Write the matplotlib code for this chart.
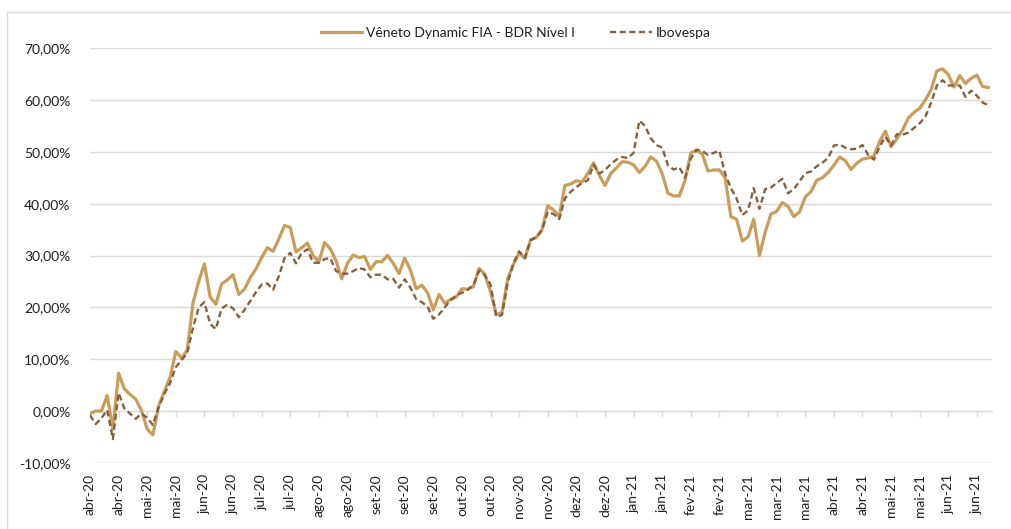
"""Vêneto Dynamic FIA vs Ibovespa - retorno acumulado"""

import matplotlib

matplotlib.use("Agg")
import matplotlib.pyplot as plt
from matplotlib.patches import Rectangle
from matplotlib.ticker import FuncFormatter

FUND_COLOR = "#C99D5B"
IBOV_COLOR = "#86603F"
GRID_COLOR = "#D9D9D9"
TEXT_COLOR = "#1F1F1F"

FUND_NAME = "Vêneto Dynamic FIA - BDR Nível I"
IBOV_NAME = "Ibovespa"

# one label every 5 points (points are ~2 business days apart)
month_labels = [
    "abr-20", "abr-20", "mai-20", "mai-20", "jun-20", "jun-20", "jul-20", "jul-20",
    "ago-20", "ago-20", "set-20", "set-20", "set-20", "out-20", "out-20", "nov-20",
    "nov-20", "dez-20", "dez-20", "jan-21", "jan-21", "fev-21", "fev-21", "mar-21",
    "mar-21", "mar-21", "abr-21", "abr-21", "mai-21", "mai-21", "jun-21", "jun-21",
]
LABEL_STEP = 5

# cumulative return, %
fund = [
    -0.5, 0.0, 0.0, 3.0, -3.5, 7.3, 4.3, 3.2, 2.3, 0.1,
    -3.5, -4.6, 1.0, 3.8, 6.5, 11.5, 10.2, 11.8, 20.8, 25.0,
    28.4, 22.0, 20.6, 24.5, 25.3, 26.3, 22.5, 23.5, 25.7, 27.4,
    29.6, 31.5, 30.8, 33.2, 35.8, 35.4, 30.7, 31.5, 32.4, 30.0,
    28.8, 32.5, 31.3, 29.0, 25.5, 28.5, 30.1, 29.6, 29.8, 27.3,
    28.8, 28.8, 30.0, 28.5, 26.5, 29.5, 27.2, 23.6, 24.3, 22.8,
    19.5, 22.5, 20.8, 21.5, 22.0, 23.6, 23.5, 24.0, 27.5, 26.4,
    23.0, 18.6, 19.0, 25.5, 28.3, 30.5, 29.5, 33.0, 33.5, 35.0,
    39.6, 38.8, 37.5, 43.5, 43.8, 44.4, 44.2, 45.8, 47.9, 45.5,
    43.5, 45.8, 46.9, 48.1, 48.0, 47.5, 46.0, 47.2, 49.0, 48.2,
    45.8, 42.0, 41.5, 41.5, 44.5, 49.8, 50.3, 49.6, 46.3, 46.5,
    46.5, 45.0, 37.5, 37.0, 32.8, 33.6, 37.0, 30.0, 34.5, 38.0,
    38.5, 40.2, 39.5, 37.5, 38.4, 41.3, 42.3, 44.5, 45.0, 46.0,
    47.4, 49.0, 48.3, 46.6, 47.8, 48.6, 48.8, 49.2, 52.0, 54.0,
    51.0, 52.5, 54.2, 56.5, 57.6, 58.4, 60.0, 62.0, 65.6, 66.0,
    64.9, 62.5, 64.7, 63.2, 64.2, 64.8, 62.6, 62.4,
]

ibovespa = [
    -0.8, -2.5, -1.4, 0.2, -5.4, 3.5, 0.5, -0.5, -1.5, -0.5,
    -1.3, -2.7, 0.8, 3.3, 5.4, 8.5, 9.8, 11.2, 16.0, 20.0,
    21.0, 16.8, 15.8, 19.8, 20.5, 19.8, 18.1, 19.5, 21.2, 22.9,
    24.4, 24.6, 23.4, 26.0, 29.5, 30.5, 28.5, 30.5, 31.2, 28.6,
    28.6, 29.3, 29.5, 27.0, 26.5, 26.5, 27.0, 27.6, 27.3, 25.8,
    26.3, 26.3, 25.4, 25.5, 23.8, 25.4, 23.8, 21.6, 21.0, 20.1,
    17.8, 18.6, 20.0, 21.4, 22.3, 22.8, 23.4, 24.3, 27.1, 26.2,
    24.4, 18.2, 18.5, 24.8, 28.5, 30.8, 29.5, 33.0, 33.5, 34.9,
    38.4, 38.0, 37.0, 41.0, 42.3, 43.2, 44.0, 44.5, 47.5, 45.8,
    46.5, 47.6, 48.5, 49.0, 48.8, 49.8, 56.0, 55.0, 52.6, 51.3,
    50.8, 47.4, 46.6, 47.0, 45.0, 48.7, 50.4, 50.2, 49.4, 49.8,
    50.2, 45.8, 43.0, 41.0, 37.8, 38.7, 43.0, 39.0, 42.8, 43.1,
    44.0, 44.8, 42.0, 42.8, 44.3, 45.9, 46.2, 47.2, 47.9, 48.8,
    51.2, 51.4, 50.8, 50.5, 50.6, 51.3, 49.4, 48.5, 51.0, 52.9,
    51.2, 53.4, 53.3, 53.7, 54.6, 55.5, 56.8, 59.5, 62.8, 63.8,
    62.8, 62.8, 62.8, 60.6, 61.8, 60.8, 59.5, 59.0,
]

y_ticks = [-10, 0, 10, 20, 30, 40, 50, 60, 70]

plt.rcParams["font.family"] = ["Lato", "DejaVu Sans"]

fig = plt.figure(figsize=(10.11, 5.29), dpi=100)
fig.patches.append(
    Rectangle((0.007, -0.1), 1.1, 1.078, transform=fig.transFigure,
              fill=False, edgecolor="#D9D9D9", linewidth=1.0)
)
ax = fig.add_axes([0.089, 0.125, 0.892, 0.784])

xs = list(range(len(fund)))
ax.plot(xs, fund, color=FUND_COLOR, linewidth=2.3, label=FUND_NAME,
        solid_joinstyle="round", zorder=3)
ax.plot(xs, ibovespa, color=IBOV_COLOR, linewidth=1.7, linestyle=(0, (2.6, 1.5)),
        label=IBOV_NAME, zorder=4)

ax.set_ylim(-10, 70)
ax.set_xlim(0, len(fund) - 0.4)
ax.set_yticks(y_ticks)
ax.yaxis.set_major_formatter(FuncFormatter(lambda v, _: f"{v:.2f}%".replace(".", ",")))
ax.grid(axis="y", color=GRID_COLOR, linewidth=1.0, zorder=0)
ax.set_axisbelow(True)
for side in ("top", "right", "left", "bottom"):
    ax.spines[side].set_visible(False)

label_pos = [i * LABEL_STEP for i in range(len(month_labels))]
ax.set_xticks(label_pos)
ax.set_xticklabels(month_labels, rotation=90)
ax.tick_params(axis="x", length=0, pad=8, labelsize=10, labelcolor=TEXT_COLOR)
ax.tick_params(axis="y", length=0, pad=14, labelsize=10, labelcolor=TEXT_COLOR)

# category axis crossing at 0%
zero_axis = ax.secondary_xaxis(0.125)
zero_axis.set_xticks(label_pos)
zero_axis.set_xticklabels([])
zero_axis.tick_params(axis="x", length=4, width=1.0, color=GRID_COLOR, direction="out")
zero_axis.spines["bottom"].set_color(GRID_COLOR)

ax.legend(loc="center", bbox_to_anchor=(0.51, 0.938), bbox_transform=fig.transFigure,
          ncol=2, frameon=False, fontsize=10, handlelength=3.0, columnspacing=2.5,
          handletextpad=0.3, labelcolor=TEXT_COLOR)

fig.savefig("out.png", dpi=100)
